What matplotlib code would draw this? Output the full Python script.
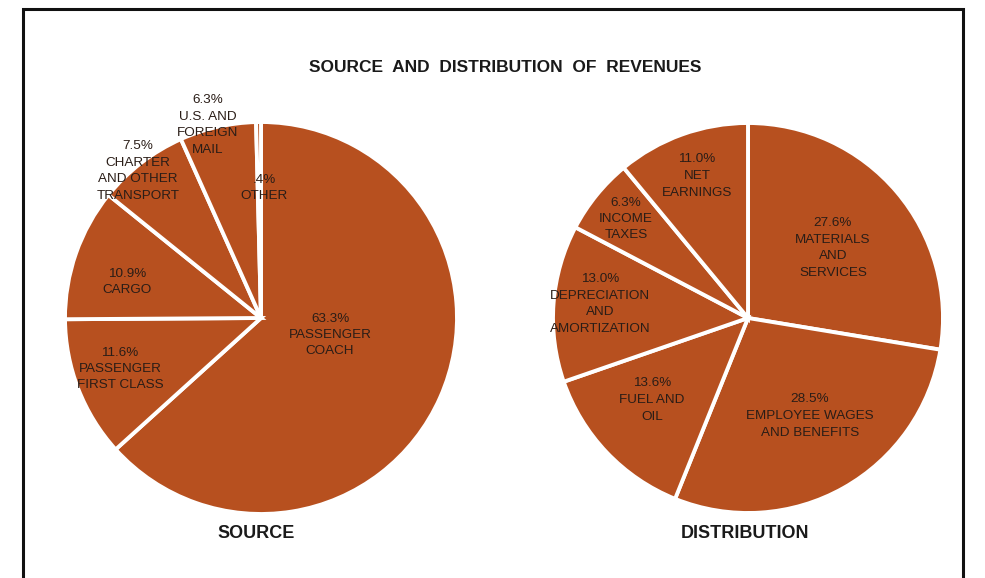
import matplotlib.pyplot as plt
from matplotlib.patches import Rectangle

# revenue sources, percent
source_names = ["PASSENGER\nCOACH", "PASSENGER\nFIRST CLASS", "CARGO",
                "CHARTER\nAND OTHER\nTRANSPORT", "U.S. AND\nFOREIGN\nMAIL", "OTHER"]
source_pct = [63.3, 11.6, 10.9, 7.5, 6.3, 0.4]
source_fmt = ["63.3%", "11.6%", "10.9%", "7.5%", "6.3%", ".4%"]

# where the revenue went, percent
dist_names = ["MATERIALS\nAND\nSERVICES", "EMPLOYEE WAGES\nAND BENEFITS", "FUEL AND\nOIL",
              "DEPRECIATION\nAND\nAMORTIZATION", "INCOME\nTAXES", "NET\nEARNINGS"]
dist_pct = [27.6, 28.5, 13.6, 13.0, 6.3, 11.0]
dist_fmt = ["27.6%", "28.5%", "13.6%", "13.0%", "6.3%", "11.0%"]

rust = "#b7501f"
ink = "#2a1d17"
H = 578

plt.rcParams["font.family"] = ["Liberation Sans", "DejaVu Sans"]

fig = plt.figure(figsize=(9.85, 5.78), dpi=100)
ax = fig.add_axes([0, 0, 1, 1])


def yy(y):
    # layout is worked out from the top edge
    return H - y


# outer frame
ax.add_patch(Rectangle((23, yy(9) - 640), 940, 640, fill=False, ec="#111111", lw=2.2))

wedge_style = dict(edgecolor="white", linewidth=2.8)

ax.pie(source_pct, colors=[rust] * 6, startangle=90, counterclock=False,
       center=(261, yy(318)), radius=196, wedgeprops=wedge_style, frame=True)
ax.pie(dist_pct, colors=[rust] * 6, startangle=90, counterclock=False,
       center=(748, yy(318)), radius=195, wedgeprops=wedge_style, frame=True)
# pie() resets limits, so put them back
ax.set_xlim(0, 985)
ax.set_ylim(0, H)
ax.set_aspect("auto")
ax.axis("off")

source_pos = [(330, 335), (120, 369), (127, 282), (138, 171), (208, 125), (264, 188)]
dist_pos = [(833, 248), (810, 416), (652, 400), (600, 304), (626, 219), (697, 176)]

for name, pct, (x, y) in zip(source_names, source_fmt, source_pos):
    ax.text(x, yy(y), pct + "\n" + name, ha="center", va="center", fontsize=9.7,
            color=ink, linespacing=1.5)
for name, pct, (x, y) in zip(dist_names, dist_fmt, dist_pos):
    ax.text(x, yy(y), pct + "\n" + name, ha="center", va="center", fontsize=9.7,
            color=ink, linespacing=1.5)

ax.text(505, yy(67), "SOURCE  AND  DISTRIBUTION  OF  REVENUES", ha="center", va="center",
        fontsize=12.5, fontweight="bold", color="#1a1a1a")
ax.text(256, yy(534), "SOURCE", ha="center", va="center", fontsize=13,
        fontweight="bold", color="#1a1a1a")
ax.text(745, yy(534), "DISTRIBUTION", ha="center", va="center", fontsize=13,
        fontweight="bold", color="#1a1a1a")

fig.savefig("out.png", dpi=100)
